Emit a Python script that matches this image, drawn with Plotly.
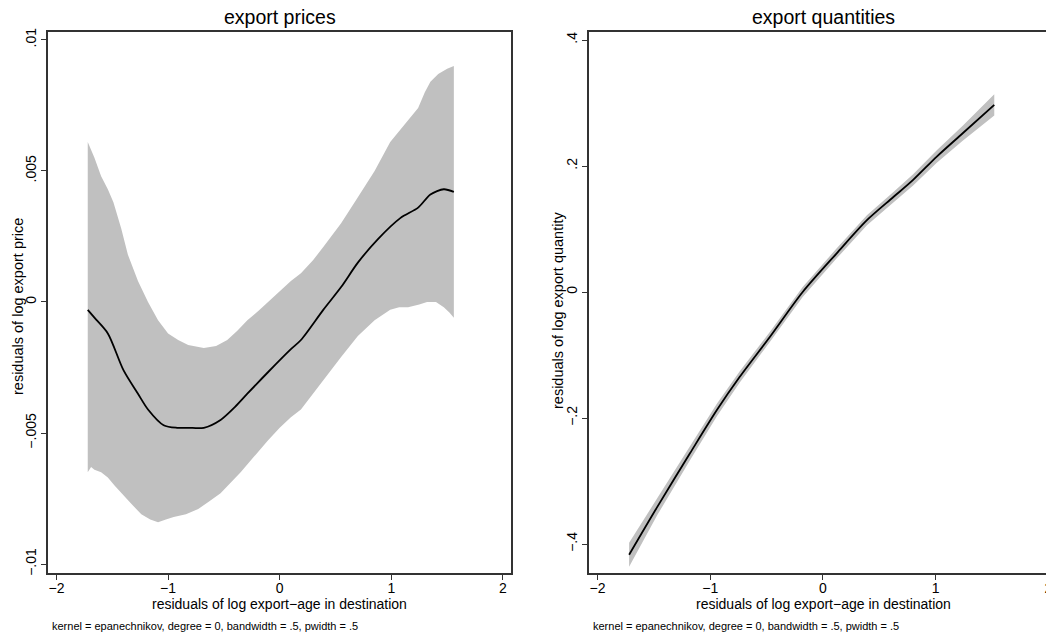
import plotly.graph_objects as go

# ---------------- data: export prices (left panel) ----------------
price_x = [-1.72, -1.66, -1.54, -1.40, -1.27, -1.18, -1.04, -0.92, -0.82, -0.68,
           -0.53, -0.40, -0.29, -0.11, 0.10, 0.19, 0.39, 0.55, 0.70, 0.88,
           1.08, 1.24, 1.35, 1.47, 1.56]
price_fit = [-0.0003, -0.0006, -0.0012, -0.0026, -0.0035, -0.0041, -0.0047, -0.0048, -0.0048, -0.0048,
             -0.0045, -0.0040, -0.0035, -0.0027, -0.0018, -0.00145, -0.0003, 0.00057, 0.0015, 0.0024,
             0.0032, 0.0036, 0.0041, 0.0043, 0.0042]

price_upper_x = [-1.72, -1.66, -1.60, -1.54, -1.49, -1.42, -1.36, -1.27, -1.18, -1.09,
                 -1.00, -0.91, -0.82, -0.68, -0.57, -0.47, -0.38, -0.29, -0.18, -0.08,
                 0.10, 0.19, 0.30, 0.39, 0.55, 0.70, 0.85, 0.99, 1.12, 1.24,
                 1.30, 1.35, 1.42, 1.50, 1.56]
price_upper = [0.0061, 0.0055, 0.0048, 0.0043, 0.0038, 0.0028, 0.0018, 0.0008, 0.0000, -0.0007,
               -0.0012, -0.00145, -0.00164, -0.00176, -0.00168, -0.00145, -0.0011, -0.0007, -0.0003, 0.0001,
               0.0008, 0.0011, 0.0016, 0.0021, 0.0030, 0.0040, 0.0050, 0.0061, 0.0068, 0.0074,
               0.0080, 0.0084, 0.0087, 0.0089, 0.0090]

price_lower_x = [-1.72, -1.69, -1.66, -1.60, -1.54, -1.48, -1.42, -1.33, -1.24, -1.16,
                 -1.09, -1.02, -0.95, -0.84, -0.73, -0.63, -0.53, -0.44, -0.35, -0.23,
                 -0.11, 0.00, 0.10, 0.19, 0.39, 0.55, 0.70, 0.85, 0.99, 1.07,
                 1.15, 1.25, 1.32, 1.40, 1.47, 1.52, 1.56]
price_lower = [-0.0065, -0.0063, -0.0064, -0.0065, -0.0067, -0.0070, -0.0073, -0.0077, -0.0081, -0.0083,
               -0.0084, -0.0083, -0.0082, -0.0081, -0.0079, -0.0076, -0.0073, -0.0069, -0.0065, -0.0059,
               -0.0053, -0.0048, -0.0044, -0.0041, -0.0030, -0.0021, -0.0013, -0.0007, -0.0003, -0.0002,
               -0.0002, -0.0001, 0.0000, -0.0000, -0.0002, -0.0004, -0.0006]

# ---------------- data: export quantities (right panel) ----------------
qty_x = [-1.72, -1.47, -1.18, -0.94, -0.74, -0.47, -0.18, 0.12, 0.39, 0.62,
         0.80, 1.01, 1.24, 1.52]
qty_fit = [-0.417, -0.341, -0.256, -0.187, -0.135, -0.071, 0.000, 0.061, 0.114, 0.150,
           0.178, 0.215, 0.252, 0.297]
qty_upper = [-0.398, -0.328, -0.245, -0.177, -0.126, -0.063, 0.008, 0.069, 0.122, 0.158,
             0.187, 0.225, 0.264, 0.314]
qty_lower = [-0.436, -0.354, -0.267, -0.197, -0.144, -0.079, -0.008, 0.053, 0.106, 0.142,
             0.169, 0.205, 0.240, 0.280]

# ---------------- tick labels ----------------
x_ticks = [-2, -1, 0, 1, 2]
x_ticklabels = ["\u22122", "\u22121", "0", "1", "2"]
price_ticks = [-0.01, -0.005, 0, 0.005, 0.01]
price_ticklabels = ["\u2212.01", "\u2212.005", "0", ".005", ".01"]
qty_ticks = [-0.4, -0.2, 0, 0.2, 0.4]
qty_ticklabels = ["\u2212.4", "\u2212.2", "0", ".2", ".4"]

titles = ["export prices", "export quantities"]
xtitle = "residuals of log export\u2212age in destination"
ytitles = ["residuals of log export price", "residuals of log export quantity"]
note = "kernel = epanechnikov, degree = 0, bandwidth = .5, pwidth = .5"

BAND = "#c0c0c0"
FONT = "Liberation Sans, Arial, sans-serif"
OFF = 8                      # page body margin
W, H = 1054 - OFF, 635 - OFF

def px(v):
    return (v - OFF)

fig = go.Figure()

# left band
fig.add_trace(go.Scatter(
    x=price_upper_x + price_lower_x[::-1],
    y=price_upper + price_lower[::-1],
    fill="toself", fillcolor=BAND, line=dict(width=0, color=BAND),
    mode="lines", hoverinfo="skip",
    xaxis="x", yaxis="y"))
fig.add_trace(go.Scatter(
    x=price_x, y=price_fit, mode="lines", line=dict(color="black", width=1.8, shape="spline", smoothing=0.8),
    xaxis="x", yaxis="y"))

# right band
fig.add_trace(go.Scatter(
    x=qty_x + qty_x[::-1],
    y=qty_upper + qty_lower[::-1],
    fill="toself", fillcolor=BAND, line=dict(width=0, color=BAND),
    mode="lines", hoverinfo="skip",
    xaxis="x2", yaxis="y2"))
fig.add_trace(go.Scatter(
    x=qty_x, y=qty_fit, mode="lines", line=dict(color="black", width=1.8, shape="spline", smoothing=0.8),
    xaxis="x2", yaxis="y2"))

ydom = [1 - px(573) / H, 1 - px(32) / H]
common_ax = dict(showgrid=False, zeroline=False, showline=True, linecolor="#333333", linewidth=1.5,
                 ticks="outside", ticklen=5, tickwidth=1.2, tickcolor="#333333",
                 tickfont=dict(family=FONT, size=14, color="black"), automargin=False)

fig.update_layout(
    width=W, height=H,
    margin=dict(l=0, r=0, t=0, b=0),
    paper_bgcolor="white", plot_bgcolor="white",
    showlegend=False,
    xaxis=dict(domain=[px(48) / W, px(511) / W], range=[-2.076, 2.072], tickvals=x_ticks, ticktext=x_ticklabels,
               mirror=True, anchor="y", ticklabelstandoff=-4, **common_ax),
    yaxis=dict(domain=ydom, range=[-0.01034, 0.0103], tickvals=price_ticks, ticktext=price_ticklabels,
               tickangle=-90, mirror=True, anchor="x", **common_ax),
    xaxis2=dict(domain=[px(589) / W, 1.0], range=[-2.076, 2.05], tickvals=x_ticks, ticktext=x_ticklabels,
                mirror=True, anchor="y2", ticklabelstandoff=-4, **common_ax),
    yaxis2=dict(domain=ydom, range=[-0.446, 0.4127], tickvals=qty_ticks, ticktext=qty_ticklabels,
                tickangle=-90, mirror=False, anchor="x2", **common_ax),
)

def ann(text, x, y, size, xanchor="center", angle=0):
    fig.add_annotation(text=text, x=px(x) / W, y=1 - px(y) / H, xref="paper", yref="paper",
                       xanchor=xanchor, yanchor="middle", showarrow=False, textangle=angle,
                       font=dict(family=FONT, size=size, color="black"))

ann(titles[0], 279.5, 17.5, 19.5)
ann(titles[1], 823, 17.5, 19.5)
ann(xtitle, 279.5, 604, 14)
ann(xtitle, 823, 604, 14)
ann(ytitles[0], 18, 307, 14.5, angle=-90)
ann(ytitles[1], 558, 311, 14.5, angle=-90)
ann(note, 50, 626, 11, xanchor="left")
ann(note, 591, 626, 11, xanchor="left")

fig.write_html("out.html")
